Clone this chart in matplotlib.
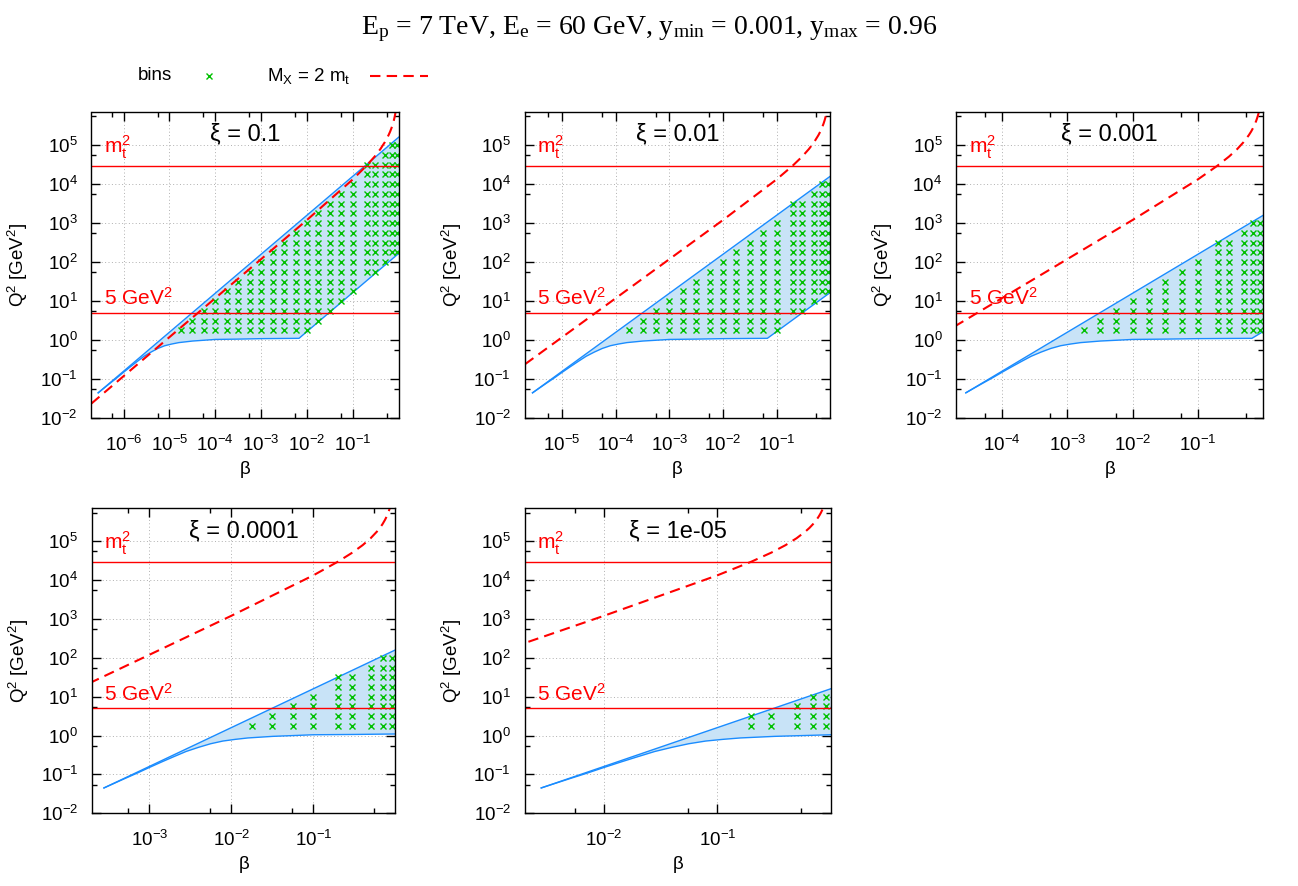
import matplotlib
matplotlib.use('Agg')
import matplotlib.pyplot as plt
from matplotlib.lines import Line2D
from matplotlib.ticker import FixedLocator, LogFormatterSciNotation, NullFormatter

plt.rcParams['font.family'] = ['Liberation Sans', 'DejaVu Sans']
plt.rcParams['mathtext.default'] = 'regular'

# ---------------- data ----------------
panel_titles = ['ξ = 0.1', 'ξ = 0.01', 'ξ = 0.001', 'ξ = 0.0001', 'ξ = 1e-05']
beta_lo = [2e-7, 2e-6, 2e-5, 2e-4, 2e-3]
beta_hi = 1.0
q2_lo, q2_hi = 1e-2, 7.2e5

mt2 = 29929.0          # m_t^2 line
q2_cut = 5.0           # 5 GeV^2 line

# upper boundary (y = y_max), straight in log-log
upper_beta = [[2.8e-7, 1.0], [2.8e-6, 1.0], [2.8e-5, 1.0], [2.8e-4, 1.0], [2.8e-3, 1.0]]
upper_q2 = [[0.045, 1.6e5], [0.045, 1.6e4], [0.045, 1.6e3], [0.045, 160.0], [0.045, 16.0]]

# lower boundary
lower_q2_shape = [0.045, 0.078, 0.108, 0.151, 0.209, 0.288, 0.389, 0.50, 0.617,
                  0.724, 0.80, 0.87, 0.955, 1.01, 1.05, 1.07, 1.10]
lower_beta = [
    [2.8e-7, 5e-7, 7.1e-7, 1e-6, 1.41e-6, 2e-6, 2.8e-6, 4e-6, 5.6e-6, 7.9e-6,
     1.12e-5, 1.6e-5, 3.2e-5, 6.3e-5, 1e-4, 3.2e-4, 1e-3, 6.7e-3, 1.0],
    [2.8e-6, 5e-6, 7.1e-6, 1e-5, 1.41e-5, 2e-5, 2.8e-5, 4e-5, 5.6e-5, 7.9e-5,
     1.12e-4, 1.6e-4, 3.2e-4, 6.3e-4, 1e-3, 3.2e-3, 1e-2, 6.7e-2, 1.0],
    [2.8e-5, 5e-5, 7.1e-5, 1e-4, 1.41e-4, 2e-4, 2.8e-4, 4e-4, 5.6e-4, 7.9e-4,
     1.12e-3, 1.6e-3, 3.2e-3, 6.3e-3, 1e-2, 3.2e-2, 1e-1, 0.67, 1.0],
    [2.8e-4, 5e-4, 7.1e-4, 1e-3, 1.41e-3, 2e-3, 2.8e-3, 4e-3, 5.6e-3, 7.9e-3,
     1.12e-2, 1.6e-2, 3.2e-2, 6.3e-2, 0.1, 0.32, 1.0],
    [2.8e-3, 5e-3, 7.1e-3, 1e-2, 1.41e-2, 2e-2, 2.8e-2, 4e-2, 5.6e-2, 7.9e-2,
     0.112, 0.16, 0.32, 0.63, 1.0],
]
lower_q2 = [
    lower_q2_shape + [1.12, 168.0],
    lower_q2_shape + [1.12, 16.8],
    lower_q2_shape + [1.12, 1.68],
    lower_q2_shape,
    lower_q2_shape[:15],
]

# M_X = 2 m_t curve
mx_beta = [2e-7, 1e-6, 1e-5, 1e-4, 1e-3, 1e-2, 0.1, 0.2, 0.3, 0.4, 0.5, 0.6, 0.65,
           0.7, 0.75, 0.78, 0.8, 0.82, 0.85, 0.88]
mx_q2 = [0.024, 0.12, 1.2, 12.0, 120.0, 1210.0, 13300.0, 30000.0, 51300.0, 79800.0,
         1.2e5, 1.8e5, 2.22e5, 2.79e5, 3.59e5, 4.24e5, 4.79e5, 5.45e5, 6.78e5, 8.8e5]

# bins
q2_bins = [1.78, 3.16, 5.62, 10, 17.8, 31.6, 56.2, 100, 178, 316, 562, 1e3,
           1.78e3, 3.16e3, 5.62e3, 1e4, 1.78e4, 3.16e4, 5.62e4, 1e5]
beta_bins = [1.78e-5, 3.16e-5, 5.62e-5, 1e-4, 1.78e-4, 3.16e-4, 5.62e-4, 1e-3,
             1.78e-3, 3.16e-3, 5.62e-3, 1e-2, 1.78e-2, 3.16e-2, 5.62e-2, 0.1,
             0.2, 0.3, 0.5, 0.7, 0.9]
bin_first_col = [0, 4, 8, 12, 16]
bin_row_lo = [
    [1] * 12 + [2, 3, 4, 5] + [7, 7, 8, 9, 9],
    [1] * 12 + [3, 3, 4, 5, 5],
    [1] * 13,
    [1] * 9,
    [1] * 5,
]
bin_row_hi = [
    list(range(1, 17)) + [18, 18, 19, 20, 20],
    list(range(1, 13)) + [14, 14, 15, 16, 16],
    list(range(1, 9)) + [10, 10, 11, 12, 12],
    [1, 2, 3, 4, 6, 6, 7, 8, 8],
    [2, 2, 3, 4, 4],
]

# ---------------- layout (pixels) ----------------
W, H = 1298, 886
boxes = [  # left, top, right, bottom
    (91.5, 111.7, 398.7, 418.3),
    (524.7, 111.7, 830.3, 418.3),
    (956.3, 111.7, 1263.3, 418.3),
    (92.0, 508.0, 395.3, 813.3),
    (524.7, 508.0, 830.7, 813.3),
]

C_LINE = '#1a8cff'
C_FILL = '#c8e3f7'
C_RED = '#ff0000'
C_GREEN = '#00c000'

fig = plt.figure(figsize=(W / 100, H / 100), dpi=100)

for p in range(5):
    l, t, r, b = boxes[p]
    ax = fig.add_axes([l / W, 1 - b / H, (r - l) / W, (b - t) / H])
    ax.set_xscale('log')
    ax.set_yscale('log')
    ax.set_xlim(beta_lo[p], beta_hi)
    ax.set_ylim(q2_lo, q2_hi)

    # shaded region
    xs = list(upper_beta[p]) + list(lower_beta[p])[::-1]
    ys = list(upper_q2[p]) + list(lower_q2[p])[::-1]
    ax.fill(xs, ys, color=C_FILL, lw=0, zorder=1)
    ax.plot(upper_beta[p], upper_q2[p], color=C_LINE, lw=1.0, zorder=3)
    ax.plot(lower_beta[p], lower_q2[p], color=C_LINE, lw=1.0, zorder=3)

    # bins
    bx, by = [], []
    for i, lo in enumerate(bin_row_lo[p]):
        hi = bin_row_hi[p][i]
        col = beta_bins[bin_first_col[p] + i]
        for k in range(lo, hi + 1):
            bx.append(col)
            by.append(q2_bins[k - 1])
    ax.plot(bx, by, ls='none', marker='x', ms=5, mew=1.0, color=C_GREEN, zorder=4)

    # horizontal cut lines
    ax.axhline(mt2, color=C_RED, lw=1.0, zorder=5)
    ax.axhline(q2_cut, color=C_RED, lw=1.0, zorder=5)
    ax.plot(mx_beta, mx_q2, color=C_RED, lw=1.5, dashes=(5, 3), zorder=6)

    tr = ax.get_yaxis_transform()
    ax.text(0.04, 6.3e4, r'm$_t^2$', transform=tr, color=C_RED, fontsize=15,
            ha='left', va='baseline', zorder=7)
    ax.text(0.04, 8.0, r'5 GeV$^2$', transform=tr, color=C_RED, fontsize=15,
            ha='left', va='baseline', zorder=7)

    ax.text(0.5, 1 - 23 / (b - t), panel_titles[p], transform=ax.transAxes,
            ha='center', va='center', fontsize=17, zorder=8)

    # ticks
    xmaj = [10.0 ** k for k in range(-7, 0) if 10.0 ** k >= beta_lo[p] * 0.999]
    xmin = [5.5 * 10.0 ** k for k in range(-8, 0) if beta_lo[p] <= 5.5 * 10.0 ** k <= 1]
    ax.xaxis.set_major_locator(FixedLocator(xmaj))
    ax.xaxis.set_minor_locator(FixedLocator(xmin))
    ax.yaxis.set_major_locator(FixedLocator([10.0 ** k for k in range(-2, 6)]))
    ax.yaxis.set_minor_locator(FixedLocator([5.5 * 10.0 ** k for k in range(-2, 6)]))
    ax.xaxis.set_major_formatter(LogFormatterSciNotation())
    ax.yaxis.set_major_formatter(LogFormatterSciNotation())
    ax.xaxis.set_minor_formatter(NullFormatter())
    ax.yaxis.set_minor_formatter(NullFormatter())
    ax.tick_params(which='both', direction='in', top=True, right=True,
                   labelsize=13.5, width=1.0)
    ax.tick_params(which='major', length=6.5)
    ax.tick_params(axis='x', which='major', pad=12)
    ax.tick_params(axis='y', which='major', pad=10)
    ax.tick_params(which='minor', length=3.5)
    ax.grid(True, which='major', color='#b0b0b0', lw=0.7, ls=(0, (1, 2.5)), zorder=0)
    ax.set_axisbelow(True)
    for s in ax.spines.values():
        s.set_linewidth(1.0)
        s.set_zorder(9)

    ax.set_xlabel('β', fontsize=13.5, labelpad=4)
    ax.set_ylabel('Q$^2$ [GeV$^2$]', fontsize=13.5)
    ax.yaxis.set_label_coords(-0.2, 0.5)

# title
fig.text(649 / W, 1 - 29 / H,
         r'E$_p$ = 7 TeV, E$_e$ = 60 GeV, y$_{min}$ = 0.001, y$_{max}$ = 0.96',
         family='Liberation Serif', fontsize=20, ha='center', va='center')

# legend
ly = 1 - 76 / H
fig.text(172 / W, ly, 'bins', fontsize=13.5, ha='right', va='center')
fig.add_artist(Line2D([209 / W], [ly], ls='none', marker='x', ms=5, mew=1.0,
                      color=C_GREEN, transform=fig.transFigure))
fig.text(267 / W, ly, r'M$_X$ = 2 m$_t$', fontsize=13.5, ha='left', va='center')
fig.add_artist(Line2D([370 / W, 428 / W], [ly, ly], color=C_RED, lw=1.5,
                      dashes=(5, 3), transform=fig.transFigure))

fig.savefig('out.png', dpi=100)
